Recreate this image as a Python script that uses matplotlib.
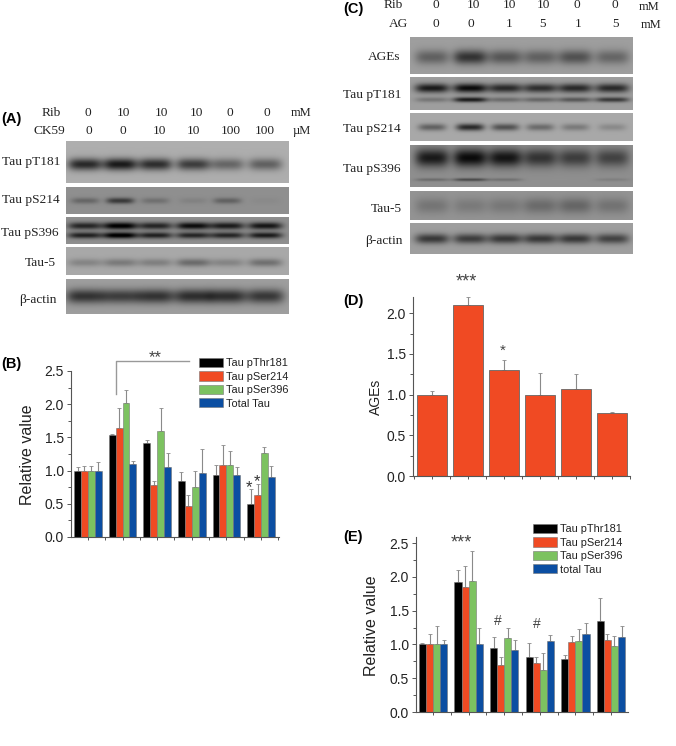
import numpy as np
from matplotlib import pyplot as plt
from matplotlib.ticker import MultipleLocator

W, H = 676, 746
BLACK, RED, GREEN, BLUE = '#000000', '#f04a23', '#7cc260', '#0b4ea2'

series_names_b = ['Tau pThr181', 'Tau pSer214', 'Tau pSer396', 'Total Tau']
series_names_e = ['Tau pThr181', 'Tau pSer214', 'Tau pSer396', 'total Tau']

# panel B
b_thr181 = [1.0, 1.53, 1.42, 0.84, 0.94, 0.50]
b_ser214 = [1.0, 1.64, 0.79, 0.47, 1.08, 0.64]
b_ser396 = [1.0, 2.02, 1.60, 0.76, 1.09, 1.26]
b_total = [1.0, 1.10, 1.05, 0.96, 0.93, 0.91]
b_thr181_top = [1.06, 1.55, 1.46, 0.98, 1.08, 0.72]
b_ser214_top = [1.07, 1.94, 0.84, 0.63, 1.38, 0.80]
b_ser396_top = [1.07, 2.22, 1.94, 1.00, 1.30, 1.36]
b_total_top = [1.13, 1.14, 1.26, 1.32, 1.05, 1.07]

# panel D
d_ages = [1.0, 2.10, 1.30, 1.0, 1.07, 0.77]
d_ages_top = [1.05, 2.20, 1.43, 1.26, 1.25, 0.79]

# panel E
e_thr181 = [1.0, 1.93, 0.95, 0.82, 0.78, 1.34]
e_ser214 = [1.0, 1.85, 0.69, 0.72, 1.04, 1.06]
e_ser396 = [1.0, 1.94, 1.09, 0.62, 1.05, 0.97]
e_total = [1.0, 1.00, 0.92, 1.05, 1.16, 1.11]
e_thr181_top = [1.02, 2.10, 1.11, 1.02, 0.84, 1.69]
e_ser214_top = [1.15, 2.16, 0.82, 0.82, 1.12, 1.15]
e_ser396_top = [1.27, 2.38, 1.25, 0.87, 1.23, 1.12]
e_total_top = [1.06, 1.25, 1.06, 1.14, 1.31, 1.28]

# blot header rows
a_rib = ['0', '10', '10', '10', '0', '0']
a_ck59 = ['0', '0', '10', '10', '100', '100']
c_rib = ['0', '10', '10', '10', '0', '0']
c_ag = ['0', '0', '1', '5', '1', '5']

# band darkness per lane, read by eye from the gels
a_lanes = [85, 120, 155, 193, 227, 265]
a_t181 = [0.52, 0.58, 0.50, 0.44, 0.28, 0.30]
a_s214 = [0.16, 0.34, 0.12, 0.05, 0.18, 0.02]
a_s396_up = [0.42, 0.58, 0.42, 0.52, 0.46, 0.48]
a_s396_low = [0.44, 0.60, 0.44, 0.42, 0.42, 0.46]
a_tau5 = [0.14, 0.18, 0.16, 0.24, 0.14, 0.22]
a_actin = [0.42, 0.38, 0.42, 0.44, 0.44, 0.40]

c_lanes = [432, 470, 505, 540, 575, 612]
c_ages = [0.24, 0.42, 0.28, 0.24, 0.30, 0.22]
c_t181_up = [0.52, 0.58, 0.46, 0.44, 0.46, 0.46]
c_t181_low = [0.16, 0.52, 0.20, 0.22, 0.28, 0.40]
c_s214 = [0.28, 0.50, 0.34, 0.24, 0.18, 0.12]
c_s396 = [0.46, 0.52, 0.48, 0.36, 0.32, 0.30]
c_s396_low = [0.14, 0.28, 0.12, 0.0, 0.0, 0.06]
c_tau5 = [0.12, 0.10, 0.11, 0.16, 0.18, 0.13]
c_actin = [0.40, 0.38, 0.40, 0.40, 0.40, 0.36]


def pixel_axes(x0, y0, x1, y1):
    return fig.add_axes([x0 / W, 1 - y1 / H, (x1 - x0) / W, (y1 - y0) / H])


def draw_blot(box, bg, lanes, bands, half_width=17):
    # bands: (y fraction, thickness in px, darkness per lane)
    x0, y0, x1, y1 = box
    xs, ys = np.meshgrid(np.arange(x0, x1, 0.5), np.arange(y0, y1, 0.5))
    img = np.full(xs.shape, bg, dtype=float)
    for yfrac, thick, levels in bands:
        yc = y0 + yfrac * (y1 - y0)
        for xc, level in zip(lanes, levels):
            img -= level * np.exp(-((xs - xc) / half_width) ** 4 - ((ys - yc) / thick) ** 2)
    ax = pixel_axes(*box)
    ax.imshow(np.clip(img, 0, 1), cmap='gray', vmin=0, vmax=1, aspect='auto', interpolation='bilinear')
    ax.axis('off')


def style_chart(ax, ylim, xlim, major=0.5):
    ax.set_xlim(xlim)
    ax.set_ylim(ylim)
    ax.spines['top'].set_visible(False)
    ax.spines['right'].set_visible(False)
    for side in ['left', 'bottom']:
        ax.spines[side].set_color('#555555')
        ax.spines[side].set_linewidth(0.8)
    ax.yaxis.set_major_locator(MultipleLocator(major))
    ax.yaxis.set_minor_locator(MultipleLocator(major / 2))
    ax.xaxis.set_major_locator(MultipleLocator(1))
    ax.xaxis.set_minor_locator(MultipleLocator(0.5))
    ax.set_xticklabels([])
    ax.tick_params(axis='x', which='both', labelbottom=False, color='#555555', width=0.7, length=2.5)
    ax.tick_params(axis='y', which='major', labelsize=10, color='#555555', width=0.7, length=3, pad=2, labelcolor='#222222')
    ax.tick_params(axis='y', which='minor', color='#555555', width=0.7, length=2)
    ax.patch.set_alpha(0)


def grouped_bars(ax, values, tops, names):
    colors = [BLACK, RED, GREEN, BLUE]
    x = np.arange(6)
    width = 0.2
    for i in range(4):
        pos = x + (i - 1.5) * width
        ax.bar(pos, values[i], width, color=colors[i], edgecolor='#777777', linewidth=0.4, label=names[i], zorder=2)
        up = np.array(tops[i]) - np.array(values[i])
        ax.errorbar(pos, values[i], yerr=[np.zeros(6), up], fmt='none', ecolor='#8a8a8a',
                    elinewidth=0.8, capsize=1.2, capthick=0.6, zorder=1)


def chart_legend(ax, px, py):
    ax.legend(loc='upper left', bbox_to_anchor=(px / W, 1 - py / H), bbox_transform=fig.transFigure,
              frameon=False, fontsize=7.9, handlelength=2.18, handleheight=0.92, handletextpad=0.3,
              labelspacing=0.27, borderpad=0, borderaxespad=0, labelcolor='#222222')


plt.rcParams['font.family'] = ['Liberation Sans', 'DejaVu Sans']
fig = plt.figure(figsize=(W / 100, H / 100), dpi=100)

# panel A blots
draw_blot((66, 141, 289, 183), 0.68, a_lanes, [(0.55, 6, a_t181)])
draw_blot((66, 187, 289, 214), 0.56, a_lanes, [(0.50, 3, a_s214)], half_width=14)
draw_blot((66, 217, 289, 244), 0.56, a_lanes, [(0.32, 3.5, a_s396_up), (0.67, 3, a_s396_low)])
draw_blot((66, 247, 289, 275), 0.66, a_lanes, [(0.55, 4, a_tau5)])
draw_blot((66, 279, 289, 314), 0.62, a_lanes, [(0.50, 7, a_actin)], half_width=19)

# panel C blots
draw_blot((410, 37, 633, 74), 0.62, c_lanes, [(0.55, 7, c_ages)])
draw_blot((410, 77, 633, 110), 0.62, c_lanes, [(0.33, 4.5, c_t181_up), (0.68, 2.5, c_t181_low)])
draw_blot((410, 113, 633, 141), 0.66, c_lanes, [(0.50, 3.5, c_s214)], half_width=14)
draw_blot((410, 145, 633, 187), 0.56, c_lanes, [(0.30, 9, c_s396), (0.82, 1.5, c_s396_low)])
draw_blot((410, 191, 633, 220), 0.58, c_lanes, [(0.50, 8, c_tau5)])
draw_blot((410, 223, 633, 254), 0.62, c_lanes, [(0.50, 5, c_actin)])

# panel B
ax_b = pixel_axes(71, 371, 279, 537)
grouped_bars(ax_b, [b_thr181, b_ser214, b_ser396, b_total],
             [b_thr181_top, b_ser214_top, b_ser396_top, b_total_top], series_names_b)
style_chart(ax_b, (0, 2.5), (-0.49, 5.52))
chart_legend(ax_b, 199, 358)

# panel D
ax_d = pixel_axes(413, 297, 630, 476)
ax_d.bar(np.arange(6), d_ages, 0.81, color=RED, edgecolor='#666666', linewidth=0.6, zorder=2)
ax_d.errorbar(np.arange(6), d_ages, yerr=[np.zeros(6), np.array(d_ages_top) - np.array(d_ages)],
              fmt='none', ecolor='#8a8a8a', elinewidth=0.8, capsize=1.2, capthick=0.6, zorder=1)
style_chart(ax_d, (0, 2.2), (-0.53, 5.5))

# panel E
ax_e = pixel_axes(416, 537, 628, 712)
grouped_bars(ax_e, [e_thr181, e_ser214, e_ser396, e_total],
             [e_thr181_top, e_ser214_top, e_ser396_top, e_total_top], series_names_e)
style_chart(ax_e, (0, 2.59), (-0.48, 5.48))
chart_legend(ax_e, 533, 524)

# all free text sits on an overlay in picture pixels
ov = fig.add_axes([0, 0, 1, 1], zorder=10)
ov.set_xlim(0, W)
ov.set_ylim(H, 0)
ov.axis('off')
SERIF = ['Liberation Serif', 'DejaVu Serif']


def serif(x, y, s, ha='center', size=9.6):
    ov.text(x, y, s, family=SERIF, fontsize=size, ha=ha, va='center', color='#222222')


def sans(x, y, s, size=10, weight='normal', rotation=0, ha='center', color='#222222'):
    ov.text(x, y, s, fontsize=size, fontweight=weight, rotation=rotation, ha=ha, va='center', color=color)


for label, x, y in [('(A)', 1, 119), ('(B)', 1, 364), ('(C)', 343, 9), ('(D)', 343, 301), ('(E)', 343, 537)]:
    sans(x, y, label, size=10.5, weight='bold', ha='left', color='black')

serif(61, 113, 'Rib', ha='right')
serif(65, 131, 'CK59', ha='right')
for x, rib in zip([88, 123, 161, 196, 230, 267], a_rib):
    serif(x, 113, rib)
for x, ck in zip([89, 123, 159, 193, 231, 265], a_ck59):
    serif(x, 131, ck)
serif(301, 113, 'mM', size=9)
serif(302, 131, 'µM', size=9)

for y, s, x in [(162, 'Tau pT181', 60), (200, 'Tau pS214', 60), (233, 'Tau pS396', 59),
                (263, 'Tau-5', 56), (300, 'β-actin', 57)]:
    serif(x, y, s, ha='right')

serif(403, 5, 'Rib', ha='right')
serif(408, 24, 'AG', ha='right')
for x, rib in zip([436, 473, 509, 543, 577, 615], c_rib):
    serif(x, 5, rib)
for x, ag in zip([436, 471, 509, 543, 578, 616], c_ag):
    serif(x, 24, ag)
serif(649, 7, 'mM', size=9)
serif(651, 25, 'mM', size=9)

for y, s, x in [(57, 'AGEs', 400), (95, 'Tau pT181', 401), (129, 'Tau pS214', 401),
                (169, 'Tau pS396', 401), (209, 'Tau-5', 402), (241, 'β-actin', 403)]:
    serif(x, y, s, ha='right')

sans(28, 455, 'Relative value', size=11.5, rotation=90)
sans(376, 397, 'AGEs', size=10, rotation=90)
sans(372, 626, 'Relative value', size=11.5, rotation=90)

# significance marks
ov.plot([116, 116, 189], [394, 361, 361], color='#999999', lw=1.0)
sans(155, 358, '**', size=12, color='#444444')
sans(249, 488, '*', size=12, color='#333333')
sans(257, 482, '*', size=12, color='#333333')
sans(466, 282, '***', size=13, color='#444444')
sans(503, 351, '*', size=11, color='#444444')
sans(461, 543, '***', size=13, color='#444444')
sans(498, 621, '#', size=10, color='#444444')
sans(537, 624, '#', size=10, color='#444444')

fig.savefig('out.png', dpi=100)
